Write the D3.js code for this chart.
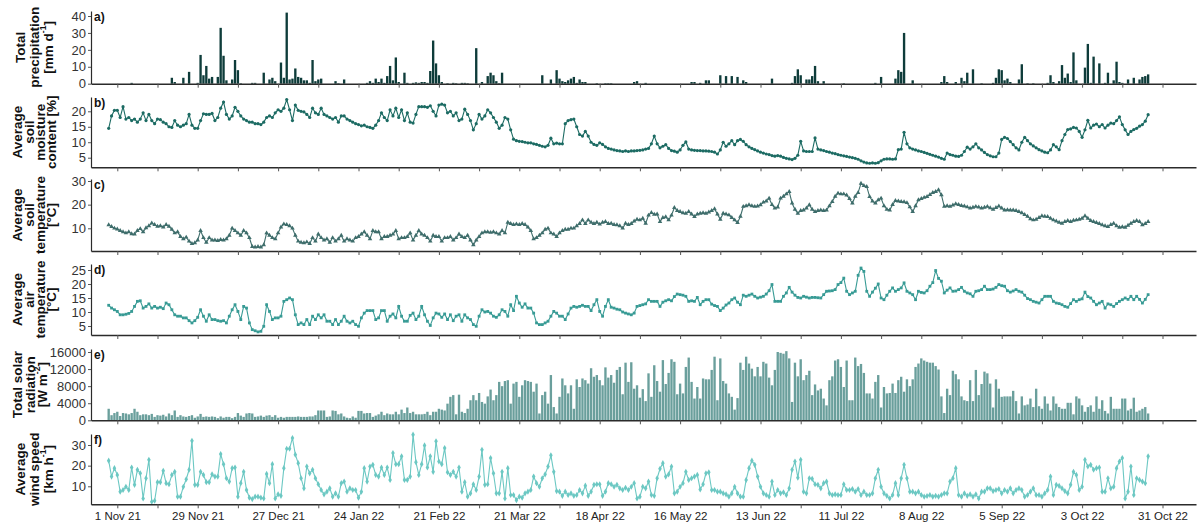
<!DOCTYPE html>
<html><head><meta charset="utf-8">
<script src="https://cdn.jsdelivr.net/npm/d3@7"></script>
<style>body{margin:0;background:#fff;} svg{display:block;}</style>
</head><body>
<script>
// ---------------- DATA (daily, 29 Oct 2021 -> 26 Oct 2022) ----------------
const startDay = [2021, 9, 29];
const tickLabels = ["1 Nov 21","29 Nov 21","27 Dec 21","24 Jan 22","21 Feb 22","21 Mar 22","18 Apr 22","16 May 22","13 Jun 22","11 Jul 22","8 Aug 22","5 Sep 22","3 Oct 22","31 Oct 22"];

const precipitation = [0,0,0,
0,0,0,0,0,0.5,0,0,0,0,0,0,0,0,
0,0,0,0,0,3.5,1,0,0,3.5,0,7,0,0,
0.5,17,5,10.5,3,4,0,4,33,16.5,2,0,2.5,14,
8,0.3,0,0,0,0.5,0.5,0,0,6.5,0,2.5,3.5,1.5,
0,12.5,3.5,42,2.5,3,9,4,3.5,2,2,0.5,14,1.5,
2.5,3,0,0,0,0,1.5,0.3,0,2.5,0,0,0,0,
0,0,0,0.5,1.5,0.5,3,1,3,0.5,4.5,10.5,2,15.5,
1,0,6.5,0.5,0,0.5,0.8,0.5,1,1,0.5,7.5,25.5,12,
5,1,0,0.3,0,0.5,0.3,0,0.5,0.5,0.3,0,0,21,
0,1,0,4.5,6.5,5,1.5,0.3,6.5,0,0,0,0,0,
0,0,0,0,0,0,0,0,5,0,0,2.5,0,8,
3,1.5,1,2,3,4,0.5,2.5,1,1,0,0,0,0.3,
0,0,0.3,0.3,0.3,0,0,0,0,0,0,0,1,1.5,
0,0,0.5,0,0,0,0,0,0,0,0,0,0,0,
0,0,0,0,1,1,0,0.5,0,2,2,0,0,0,
5,0,4.5,0,4.5,0,4,0,2,1,0,0,0,0,
0,0,0,0,3,0,0,0,0,0,0,0.5,4.5,8.5,
5,0,2.5,2.5,4.5,10.5,1.5,0,1.5,0,0,0,0,0,
0,0.3,0,0,0,0,0,0,0,0,0,0,0.5,0,
4,0,0,0,0,3,8,7,30,0,0,2,0,0,
0,0,0,0,0,0,0,1,4.5,1,0,0,1,0,
3.5,1.5,6.5,0,8.5,0,0,0.3,0,0,0,0.5,3.5,8.5,
8,2,3,1,0,0,2.5,11.5,0,0.3,0,0.3,0,0,
0,0,0.5,5,1,0,1.5,11,3.5,6,1,18.5,2,0,
0,9.5,23.5,0.5,16,0,12,0,0.5,6.5,0,2,13,1,
0.5,0,2.5,0,3.5,0,2.5,4,4.5,5.5];

const soilMoisture = [14.5,18.5,20.3,
20.3,18,21.5,17.5,18,17,17.5,16.5,17.5,19.5,17,19,17,16,
17.5,17.3,16.5,16,15,14.8,17,15.5,15,15.5,16,19,15.5,14.5,
14.5,17,19.2,19,19,19.3,17,18,21,23,19,17.5,18.5,21.3,
20,18.5,17.5,17,16.5,16.5,16,16,15.7,16.5,18,18.5,18,19.5,
20.5,20,21,23.8,20.5,17,22,20.3,20,19.8,19,18,21,19.5,
19,21,19,18.5,18,17.5,18,16.5,18.5,18.5,17.5,17,16.5,16,
15.7,15.3,15.5,15,14.8,14.5,15.5,17,19.5,18,17,20.5,18.5,21,
18,20.5,17,19.5,16.5,16.2,19,21.5,21.5,21.5,21.3,21.8,20,18.5,
22,22.3,22,19.5,20,18.5,19.5,17,17.5,20.7,19,17,14,16,
19,17.5,18.5,20.5,19.5,18,16.5,14.5,15.5,18,17.5,14,11,10.5,
10.3,10.2,10,9.8,9.8,9.5,9.3,9,8.7,8.5,9,11.3,9.5,9.7,
9.5,9.5,16,17,17.3,17.5,15,12.5,12,13.5,12,10,9.3,9,
9.8,9.3,8.5,8,7.8,7.5,7.3,7.2,7,7.2,7,7.2,7.2,7.3,
7.4,7.5,7.8,8,9.5,12,9.5,8.2,8.7,9.2,8,7.3,7.1,6.8,
7.5,9,10.1,7.8,7.5,7.4,7.3,7.3,7.2,7.2,7.1,7,6.8,6.2,
7.5,10,8.7,9.5,10.5,9.2,10.5,10.9,10.3,9.2,8.5,8,7.6,7.2,
6.8,6.5,6.2,6,5.7,5.5,5.7,5.5,5.1,4.8,4.6,4.4,4.8,5.8,
10.3,7.2,7,7,7,11.4,7.8,7.5,7.3,7,6.8,6.5,6.3,6,
5.8,5.6,5.4,5.2,5,4.8,4.5,4,3.6,3.3,3.2,3.3,3.2,3.4,
4,4.5,4.6,4.6,4.5,4.6,7.6,7.8,13.2,9.5,8.2,7.8,7.5,7.2,
7,6.7,6.4,6.1,5.8,5.5,5.2,4.8,4.5,6.5,6,5.8,5.5,5.4,
5.8,7,8.4,7.8,8.5,9.5,8.2,7.5,6.7,6,5.6,5.3,5.3,6.5,
10.9,11.6,11.2,10.2,9.2,8.2,7.5,10,11.6,10.5,9.5,8.8,8.2,7.6,
7.2,6.8,6.6,7.5,9.2,8.5,7.6,10.5,12.5,14.1,14.3,14.8,14.6,13.5,
11.6,14,17.1,14.6,15.5,15.9,15,15.7,14.6,15.5,16.2,16,17,18.2,
15.7,14,12.5,13.5,14.1,14.5,15.2,15.7,16.8,18.9];

const soilTemperature = [11.4,10.7,10,
9.6,9,8.5,8,8.5,7.6,7.5,9,9.8,8.5,10.2,11,12.2,11.5,
10.8,11,10.5,11.5,10.8,9.5,8,8.5,6.5,5.5,6.2,4.5,3.5,3.8,
5,9,6,4,6,5,5,4.8,5.2,5,5.5,7,10,9,
8,7,9,8,6,2.2,2,2.2,2,3,8,7,6,5.5,
8,10.5,11.8,11.5,11,10,7,4.5,4,3.8,4.2,3.5,6,4.5,
7.5,6,5,5.5,4,6,4.5,5.5,7,4.5,5.5,5,4.5,6,
6.5,7.5,8.5,7,5.5,9,8.5,8.5,5.5,6.5,6.5,7,7.5,9,
5.5,6,6,6.5,8,5,7,9,7.5,7,6,4.5,7,6.5,
6.5,4.5,6,6,6.5,5,6,7.5,6.5,6,7,5,3,5,
6.5,8,8.5,8.5,8.2,8.5,8,7.5,9,8,12.5,12,11.5,11.8,
11.5,12,11.5,10.5,9,5.5,6,7,8,9.5,10,8,7.5,6.5,
8,9,9.5,9.5,10,10,11,12,13.5,12,13.5,12.5,12,12.5,
11.7,12.5,12.8,12,12.1,11.5,11.4,11,10,12.1,11.5,12,13,13.8,
13.5,14.2,12.1,15.5,16.6,15.9,16,12.8,14.5,14.8,13.5,15.5,18.7,17.5,
17,16.5,16.3,17,16,14.9,16,16.3,16.5,16.3,16.8,17.5,18.2,16,
13.8,16.3,16,15.6,14.5,13.5,12.4,15,19.2,19.5,19.9,19.5,19.2,19.4,
19.9,21,21.5,22.7,20,18.5,18.9,22.7,23.5,24.5,25.5,20.6,18,16.3,
17.5,17.7,18.5,19.9,18,17,17.5,17.7,17.5,17.7,19.5,21.3,23.5,24.8,
24.5,24.5,24,22.5,20.6,23.5,25.1,29,28,27.6,23.4,21.5,20.6,22,
22.7,19.5,18,17.7,20,21.7,21.5,21.3,21.2,20.8,19,17,19.5,22,
22.5,23,23.4,24.2,25.1,25.5,26.2,24.1,19.2,19.5,19.2,19.8,20.3,20,
19.6,19.4,19,18.5,18.8,19.2,18.9,18.5,18.8,19.2,18.6,18,18.7,19.4,
18.5,17.7,17.8,17.7,17.7,17.5,17,16.5,15.8,15,14,13.5,13.8,14.5,
15.2,15,14.9,14.2,13.5,13,12.5,12.1,12.8,13.2,12.8,13.3,13.5,13.8,
14.2,15.2,14.2,13.2,12.8,12.4,12,11.4,11,10.7,11.5,12.1,11,10.4,
10.6,10.4,11.2,12.1,12.8,13.2,12.8,11.4,12,12.8];

const airTemperature = [12.4,11.4,10.8,
10.2,9,9,9.2,9.5,10.2,12,13.8,14,11.4,12,12.9,11.4,12,
11.4,11.7,11.2,13.2,12.6,10.8,9,8.5,8.5,7.9,7.9,6.9,6.1,6.9,
8.1,10.8,8.5,6.7,9,7.3,7.3,6.9,6.7,6.9,6.1,8.5,10.8,12.6,
10.2,7.3,12,11.4,6.1,3.7,3.3,2.9,3.1,4.9,12.6,10.2,7.3,7.9,
7.9,8.5,13.8,14.4,15,14.4,9,5.5,6.1,5.5,7.3,5.5,8.5,7.3,
9,7.9,9,6.7,6.7,5.5,7.3,5.5,6.7,8.5,6.7,6.1,6.7,5.5,
4.9,7.9,9.6,10.5,10.5,10.5,7.3,7.9,10.5,10.5,6.7,8.5,9.3,7.9,
12,8.5,6.7,6.7,8.8,9.6,7.3,8.5,12,9,6.7,5.2,7.9,9.6,
9.3,8.1,9.3,7.3,9,6.9,8.5,9,6.7,9,7.9,7.3,5.5,4.9,
8.5,10.8,10,10.2,9.6,8.5,8.1,9,10.8,10.2,8.5,12.6,10.5,15.6,
13.2,11.7,12.9,11.4,11.4,9.6,6.1,5.5,5.5,6.1,6.7,8.5,10.2,9.6,
8.5,8.5,7.3,9.3,11.4,12,11.7,12,12.4,12,12,10.5,12.6,14.4,
10.2,8.5,12,14.4,11.7,11.4,11,10.8,10,9.6,9.3,9,9.6,12,
12.3,12.6,12.9,14.4,13.8,13.8,13.8,12,13.5,14,14.4,14,15.5,16.4,
16.2,16,15.6,13.8,14,13.8,15.2,12.6,13.8,14.4,14.4,12.8,12.3,12,
10.5,11.4,12.5,13.2,14.4,15,13.5,12.6,16,15.6,16,16.4,15.6,15,
15.3,15.6,16.4,17.6,19.8,13.8,13.8,13.8,15.6,16.8,18.8,17.1,16,15.2,
15,15.6,15.3,15,15.2,15.2,15.1,15,16.2,17.4,17.5,17.6,18,19.8,
20.5,22.1,17.4,16.2,16.8,17.4,23.1,25.7,24.5,17.4,15.6,17.1,18.5,20,
15,14.4,16,17.4,18.6,17.4,18,18.6,20.4,17.4,16.8,16.2,14.4,17.4,
17,16.8,17.6,19.2,20.5,24.8,22,21,16.8,17.8,18.6,17.4,17.5,18,
18.8,17.4,16.8,16.5,15.6,17.4,17.6,18,19.2,18,18,18.2,18.8,19.8,
19.4,19.2,17.6,17.1,17.5,18,17.4,17.1,16,14.8,14.4,13.8,13.5,13.2,
14.4,15.6,15.6,15.6,13.8,13.2,13,12.6,12,11.7,13,14.4,13.8,14.4,
14.7,17.1,15.5,15,13.8,12.6,13.2,13.8,11.4,12.9,12.6,12,13,13.8,
14.4,15,14.5,15.6,14.4,15.6,14.5,13.2,14.5,16.2];

const solarRadiation = [2700,1200,1700,
2000,1000,1700,1600,1400,1700,2700,2000,1200,1400,
1400,1200,1500,800,1200,1100,1300,900,1600,1200,2300,800,
1200,900,800,1000,1200,600,900,1500,800,900,800,900,
800,500,900,600,800,800,500,800,1700,1100,800,1600,
1700,1600,800,900,1100,800,1100,1200,800,1200,600,800,
600,800,800,800,800,900,800,800,800,900,900,1200,
2300,2300,2300,800,900,2300,2200,1400,1600,900,600,500,
900,600,2200,2200,1600,1700,1700,800,1100,1400,2000,1200,
1600,1400,1400,2000,1400,2500,
1700,3000,1700,2000,1400,1400,1400,1500,2000,1200,2000,2000,2700,2500,
2300,3900,5500,5900,1400,6000,2000,1700,2700,4700,5900,4700,6400,4300,
3900,5600,7200,4700,5900,9000,8000,9200,9400,3900,8600,9000,5500,8200,
9400,9200,9000,6700,8600,1600,5900,6700,3900,10600,3100,1600,5500,9800,
8200,6300,8200,2700,9600,7800,9800,9400,8600,12200,10200,10600,
9400,8200,12400,10000,10600,8800,11800,12500,6100,13500,9000,13600,7400,8200,
5300,7300,4500,11000,5500,12900,9200,6700,14100,8500,11100,14300,13700,6100,
8600,6300,12500,14700,9000,5100,7800,5100,9800,9600,9600,11800,14900,4700,
14500,9200,8600,6300,5500,2500,5200,13500,11800,14900,13300,12100,10300,12500,
10300,13700,13300,10000,8200,11800,16000,15800,15600,16200,14500,4300,13500,10300,
14300,9400,10600,11600,5900,8400,7000,7400,5100,3500,9400,10300,14000,14300,
12500,7800,14000,4700,4700,14700,12700,13200,11100,6300,6300,5100,9000,10600,
3000,7800,6300,6400,8600,6400,9400,10200,6700,9600,8000,9600,12500,13300,
14500,14000,13700,13500,13500,12700,11900,5600,1700,7400,5900,11600,10800,9600,
5600,4700,4500,9400,4500,11800,5900,8500,11400,11000,8600,3000,9600,7400,
5500,5600,5600,5600,6900,4500,1600,5600,3500,3700,5100,3100,7400,3300,
2700,5600,3900,2300,5600,3900,3100,2700,2700,4100,4100,1400,5600,5100,
3500,2000,3100,3500,2000,5600,2700,4700,2200,1600,5500,2700,2700,2700,
5100,5100,2300,2700,5300,2000,2300,2700,3100,1600];

const windSpeed = [22.4,14.7,18.8,
15.5,7.4,8.2,9.8,8.2,19.1,10.7,18,16.3,4.1,13.9,22.8,2.5,3,
12,12,17.5,11.5,11,15.5,17,5,5,9.8,13.4,18,32,10.7,
10.7,17,15.5,12,12,15.8,14.7,14.7,25.6,20.7,13.9,12.3,18.8,19.1,
5,11.5,17,8.2,4.5,3.8,5,5,4.5,4.1,16,11.5,20.7,4.1,
6.1,5.4,18.8,28.2,28.2,33.4,25.3,21.2,13.9,9,19.6,16.3,18,13.9,
11,8.2,6.1,7.4,9,5,6.6,5,11.5,12.3,7.4,9,8.2,8.2,
4.5,7.4,18.8,12.3,19.6,20.4,15.5,14.7,19.1,15.5,19.1,13.1,26.1,20.7,
20.7,24.5,13.1,13.1,14.7,35,21.7,15.5,20.7,29.8,19.1,24.5,17,31.8,
22,20.7,28.5,16.8,15.5,17,14.7,19.1,7.4,12,5,6.6,11,8.2,
14.7,27.7,10.7,11,23.7,16.3,6.6,6.6,17,4.1,18.8,5.8,5.8,3.3,
5,4.5,6.6,7.4,8.2,14.7,11.5,9.8,13.9,15.8,19.6,25,17,7.7,
7.4,5.4,7.4,5.8,6.6,5.4,5.8,8.2,6.6,10.3,5.4,7.4,10.7,11,
11,5.4,7.4,11.5,11,9.8,10.7,9,8.2,9.3,8.2,9.8,11.5,4.1,
5,9.8,9,12.3,5.8,5.4,13.9,18.5,21.2,14.7,15.8,19.6,6.6,7.4,
9.8,11.5,17,13.1,13.9,14.7,15.5,8.5,11,16.3,16.8,8.2,8.2,7.4,
7.4,6.6,6.1,5,6.6,9.8,6.6,5,5,13.1,18.8,22.4,20.4,14.7,
9.8,6.6,5.8,5,12.3,5.8,8.2,6.6,7.1,5.8,9,18,22,14.2,
22.8,7.4,6.6,13.9,13.6,11,10.7,9,11.5,12.3,6.6,5.8,6.1,5.8,
5.8,11,8.2,8.2,8.7,7.4,8.7,5.8,7.4,5.8,5.8,6.6,13.9,18,
9.8,6.6,5.4,4.1,5.8,11.5,5.8,13.9,20.4,13.9,7.4,7.4,6.6,7.4,
5.8,5,5.3,5.8,5,5.4,5,5.8,6.6,6.6,12.3,13.9,18.8,5.8,
5,6.6,5.4,6.1,5,6.1,4.1,7.4,7.4,9,9,7.7,8.2,8.7,
6.6,8.2,7.4,9,6.6,8.2,9,8.2,5,5.8,7.4,9,5.8,5.8,
5,6.6,8.2,14.7,5.8,10.7,10.2,9,7.7,6.6,10.7,17,15.5,8.2,
9.8,22.8,19.6,20.4,18,18.8,19.1,7.4,7.4,13.9,9,9.8,18.8,22,
23.7,4.1,7.4,19.6,5.8,13.9,13.1,12.3,11.5,24.5];

const yTicksPrecip = [0,10,20,30,40];
const yTicksMoisture = [5,10,15,20];
const yTicksSoilTemp = [10,20,30];
const yTicksAirTemp = [5,10,15,20,25];
const yTicksSolar = [0,4000,8000,12000,16000];
const yTicksWind = [10,20,30];

// ---------------- LAYOUT / STYLE ----------------
const W = 1199, H = 524;
const AX0 = 91, AX1 = 1196;
const FONT = '"Liberation Sans", Arial, Helvetica, sans-serif';
const AXIS_COLOR = "#2b2b2b";
const TICK_COLOR = "#555";

const svg = d3.select("body").append("svg").attr("width", W).attr("height", H)
  .style("font-family", FONT);

const x = d3.scaleUtc()
  .domain([new Date(Date.UTC(2021,10,1)), new Date(Date.UTC(2022,9,31))])
  .range([117.3, 1162.5]);
const xFull = x.copy().domain([x.invert(AX0), x.invert(AX1)]).range([AX0, AX1]);
const dayDate = i => new Date(Date.UTC(startDay[0], startDay[1], startDay[2] + i));
const tickDates = d3.range(27).map(k => new Date(Date.UTC(2021, 10, 1 + 14*k)));

const panels = [
  {letter:"a)", values:precipitation, kind:"bar", color:"#0e3c3a", top:11, bottom:83.7,
   ref:[[0,83.7],[40,16]], ticks:yTicksPrecip, tx:[20, 34, 47.5],
   title:[[["Total"]],[["precipitation"]],[["[mm d"],["-1",1],["]"]]]},
  {letter:"b)", values:soilMoisture, kind:"line", marker:"circle", color:"#1c6b63", top:97, bottom:167.3,
   ref:[[5,157.7],[20,111.3]], ticks:yTicksMoisture, tx:[17, 28.5, 39.5, 50.5],
   title:[[["Average"]],[["soil"]],[["moisture"]],[["content [%]"]]]},
  {letter:"c)", values:soilTemperature, kind:"line", marker:"triangle", color:"#3e6d6b", top:179, bottom:251,
   ref:[[10,228.3],[30,181]], ticks:yTicksSoilTemp, tx:[17, 28.5, 39.5, 50.5],
   title:[[["Average"]],[["soil"]],[["temperature"]],[["[°C]"]]]},
  {letter:"d)", values:airTemperature, kind:"line", marker:"square", color:"#389b95", top:264, bottom:335,
   ref:[[5,326],[25,270]], ticks:yTicksAirTemp, tx:[17, 28.5, 39.5, 50.5],
   title:[[["Average"]],[["air"]],[["temperature"]],[["[°C]"]]]},
  {letter:"e)", values:solarRadiation, kind:"bar", color:"#6a9f9c", top:349, bottom:420.3,
   ref:[[0,420.3],[16000,352]], ticks:yTicksSolar, tx:[17, 29.5, 42],
   title:[[["Total solar"]],[["radiation"]],[["[W m"],["-2",1],["]"]]]},
  {letter:"f)", values:windSpeed, kind:"line", marker:"diamond", color:"#6cc8c3", top:434, bottom:504.3,
   ref:[[10,486.3],[30,445]], ticks:yTicksWind, tx:[20, 34, 47.5],
   title:[[["Average"]],[["wind speed"]],[["[km h"],["-1",1],["]"]]]}
];

const symbolTypes = {triangle:d3.symbolTriangle, square:d3.symbolSquare, diamond:d3.symbolDiamond};
const symbolSizes = {triangle:9, square:8, diamond:11};

panels.forEach((p, pi) => {
  const yRef = d3.scaleLinear().domain([p.ref[0][0], p.ref[1][0]]).range([p.ref[0][1], p.ref[1][1]]);
  const y = d3.scaleLinear().domain([yRef.invert(p.bottom), yRef.invert(p.top)]).range([p.bottom, p.top]);
  const g = svg.append("g");

  if (p.kind === "bar") {
    const bw = 2.35;
    g.append("g").selectAll("rect").data(p.values).join("rect")
      .attr("x", (v,i) => x(dayDate(i)) - bw/2)
      .attr("width", bw)
      .attr("y", v => y(v))
      .attr("height", v => Math.max(0, y(0) - y(v)))
      .attr("fill", p.color);
  } else {
    const line = d3.line().x((v,i) => x(dayDate(i))).y(v => y(v));
    g.append("path").datum(p.values).attr("d", line)
      .attr("fill","none").attr("stroke", p.color).attr("stroke-width", 1.1);
    const mg = g.append("g").attr("fill", p.color);
    if (p.marker === "circle") {
      mg.selectAll("circle").data(p.values).join("circle")
        .attr("cx", (v,i) => x(dayDate(i))).attr("cy", v => y(v)).attr("r", 1.6);
    } else {
      const sym = d3.symbol().type(symbolTypes[p.marker]).size(symbolSizes[p.marker]);
      mg.selectAll("path").data(p.values).join("path")
        .attr("transform", (v,i) => `translate(${x(dayDate(i))},${y(v)})`)
        .attr("d", sym);
    }
  }

  const ya = g.append("g").attr("transform", `translate(${AX0},0)`)
    .call(d3.axisLeft(y).tickValues(p.ticks).tickSize(3).tickSizeOuter(0).tickPadding(2).tickFormat(d3.format("d")));
  ya.select(".domain").attr("stroke", AXIS_COLOR).attr("stroke-width", 1.2);
  ya.selectAll(".tick line").attr("stroke", TICK_COLOR);
  ya.selectAll(".tick text").attr("font-size", 13).attr("fill", "#333").attr("font-family", FONT);

  const isLast = pi === panels.length - 1;
  const xa = g.append("g").attr("transform", `translate(0,${p.bottom})`)
    .call(d3.axisBottom(xFull).tickValues(tickDates).tickSize(4).tickSizeOuter(0).tickPadding(4)
      .tickFormat((d,i) => (isLast && i % 2 === 0) ? tickLabels[i/2] : ""));
  xa.select(".domain").attr("stroke", AXIS_COLOR).attr("stroke-width", 1.4);
  xa.selectAll(".tick line").attr("stroke", TICK_COLOR);
  xa.selectAll(".tick text").attr("font-size", 11.5).attr("fill", "#222").attr("font-family", FONT);

  g.append("text").attr("x", AX0 + 3).attr("y", p.top + 10)
    .attr("font-size", 12).attr("font-weight", "bold").attr("fill", "#111").text(p.letter);

  const cy = (p.top + p.bottom) / 2;
  p.title.forEach((segs, li) => {
    const t = g.append("text")
      .attr("transform", `translate(${p.tx[li]},${cy}) rotate(-90)`)
      .attr("text-anchor", "middle").attr("dominant-baseline", "central")
      .attr("font-size", 13.5).attr("font-weight", "bold").attr("fill", "#111");
    segs.forEach(s => {
      if (s[1]) {
        t.append("tspan").attr("font-size", 8.5).attr("baseline-shift", "super").text(s[0]);
      } else {
        t.append("tspan").text(s[0]);
      }
    });
  });
});
</script>
</body></html>
